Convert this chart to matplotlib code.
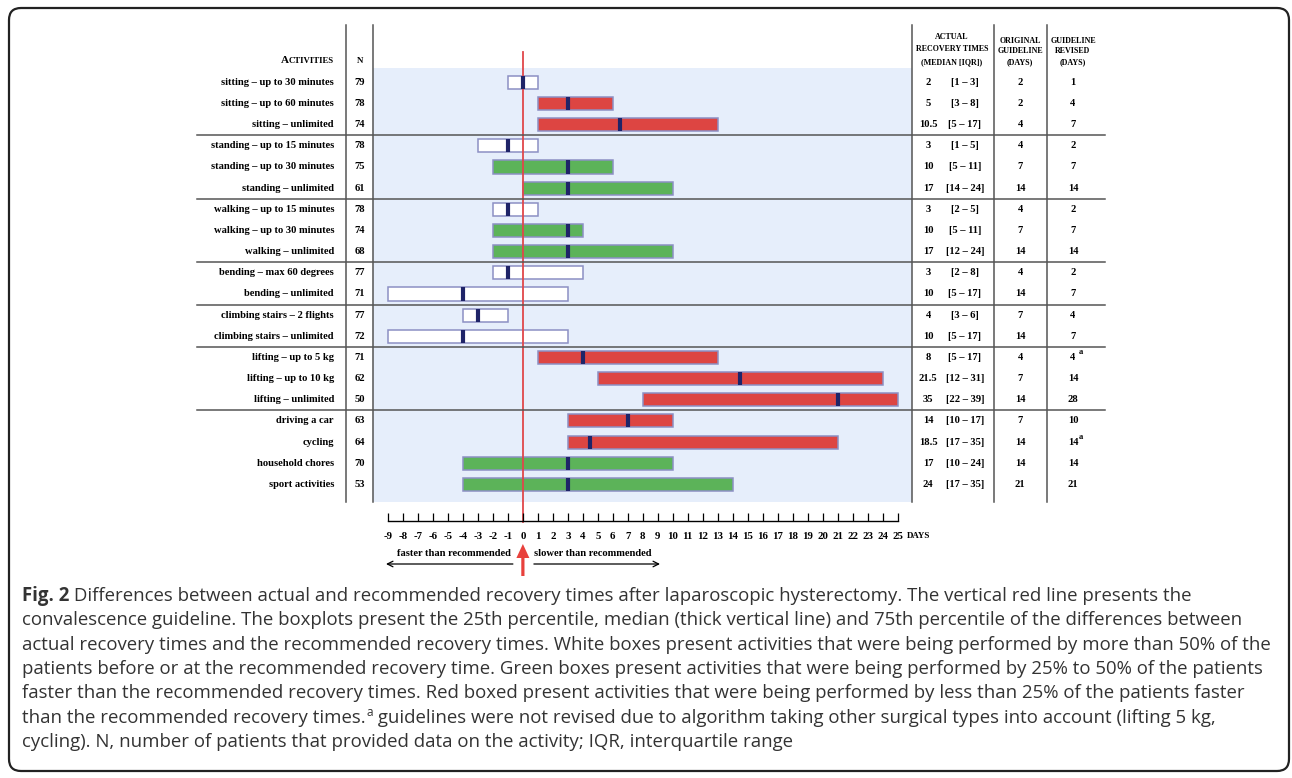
import matplotlib
matplotlib.use("Agg")
import matplotlib.pyplot as plt
import matplotlib.transforms as mtransforms
from matplotlib.patches import FancyBboxPatch, FancyArrow

# activities and table values
activities = [
    "sitting – up to 30 minutes", "sitting – up to 60 minutes", "sitting – unlimited",
    "standing – up to 15 minutes", "standing – up to 30 minutes", "standing – unlimited",
    "walking – up to 15 minutes", "walking – up to 30 minutes", "walking – unlimited",
    "bending – max 60 degrees", "bending – unlimited",
    "climbing stairs – 2 flights", "climbing stairs – unlimited",
    "lifting – up to 5 kg", "lifting – up to 10 kg", "lifting – unlimited",
    "driving a car", "cycling", "household chores", "sport activities",
]
n_patients = [79, 78, 74, 78, 75, 61, 78, 74, 68, 77, 71, 77, 72, 71, 62, 50, 63, 64, 70, 53]
actual_median = ["2", "5", "10.5", "3", "10", "17", "3", "10", "17", "3", "10", "4", "10",
                 "8", "21.5", "35", "14", "18.5", "17", "24"]
actual_iqr = ["[1 – 3]", "[3 – 8]", "[5 – 17]", "[1 – 5]", "[5 – 11]", "[14 – 24]",
              "[2 – 5]", "[5 – 11]", "[12 – 24]", "[2 – 8]", "[5 – 17]", "[3 – 6]",
              "[5 – 17]", "[5 – 17]", "[12 – 31]", "[22 – 39]", "[10 – 17]", "[17 – 35]",
              "[10 – 24]", "[17 – 35]"]
original_days = [2, 2, 4, 4, 7, 14, 4, 7, 14, 4, 14, 7, 14, 4, 7, 14, 7, 14, 14, 21]
revised_days = [1, 4, 7, 2, 7, 14, 2, 7, 14, 2, 7, 4, 7, 4, 14, 28, 10, 14, 14, 21]
not_revised = [13, 17]  # rows with footnote a

# differences actual - recommended (days)
diff_q1 = [-1, 1, 1, -3, -2, 0, -2, -2, -2, -2, -9, -4, -9, 1, 5, 8, 3, 3, -4, -4]
diff_med = [0, 3, 6.5, -1, 3, 3, -1, 3, 3, -1, -4, -3, -4, 4, 14.5, 21, 7, 4.5, 3, 3]
diff_q3 = [1, 6, 13, 1, 6, 10, 1, 4, 10, 4, 3, -1, 3, 13, 24, 25, 10, 21, 10, 14]
box_class = ["white", "red", "red", "white", "green", "green", "white", "green", "green",
             "white", "white", "white", "white", "red", "red", "red", "red", "red",
             "green", "green"]
group_breaks = [2.5, 5.5, 8.5, 10.5, 12.5, 15.5]
day_ticks = list(range(-9, 26))

caption = [
    "convalescence guideline. The boxplots present the 25th percentile, median (thick vertical line) and 75th percentile of the differences between",
    "actual recovery times and the recommended recovery times. White boxes present activities that were being performed by more than 50% of the",
    "patients before or at the recommended recovery time. Green boxes present activities that were being performed by 25% to 50% of the patients",
    "faster than the recommended recovery times. Red boxed present activities that were being performed by less than 25% of the patients faster",
]

W, H = 1292, 778
box_colors = {"white": "#ffffff", "green": "#5cb359", "red": "#dd4542"}
edge = "#8c90c4"
navy = "#1f2468"
redline = "#e0474a"
linec = "#555555"

plt.rcParams["font.family"] = ["Liberation Serif", "DejaVu Serif"]
plt.rcParams["font.weight"] = "bold"
plt.rcParams["axes.unicode_minus"] = False

fig = plt.figure(figsize=(W / 100, H / 100), dpi=100)
renderer = fig.canvas.get_renderer()

# overlay in pixel coordinates
ov = fig.add_axes([0, 0, 1, 1], zorder=3)
ov.set_xlim(0, W)
ov.set_ylim(H, 0)
ov.axis("off")
ov.patch.set_alpha(0)

# panel axes with the boxes
pl, pr, pt, pb = 373, 912, 68, 502
ax = fig.add_axes([pl / W, (H - pb) / H, (pr - pl) / W, (pb - pt) / H], zorder=1)
ax.set_xlim(-10.0, 25.96)
ax.set_ylim(19.83, -0.675)
ax.set_facecolor("#e6eefb")
for s in ax.spines.values():
    s.set_visible(False)
ax.set_xticks([])
ax.set_yticks([])

rows = list(range(len(activities)))
ax.barh(rows, [b - a for a, b in zip(diff_q1, diff_q3)], left=diff_q1, height=0.62,
        color=[box_colors[c] for c in box_class], edgecolor=edge, linewidth=1.1, zorder=2)
ax.axvline(0, ymin=-0.045, ymax=1.037, clip_on=False, color=redline, lw=1.3, zorder=3)
ax.vlines(diff_med, [r - 0.31 for r in rows], [r + 0.31 for r in rows],
          color=navy, lw=3, zorder=4)
for yb in group_breaks:
    ax.axhline(yb, xmin=(197 - pl) / (pr - pl), xmax=(1105 - pl) / (pr - pl),
               clip_on=False, color=linec, lw=1.1, zorder=5)

# column lines
for x in (345.5, 373, 912, 993.5, 1046.5):
    ov.plot([x, x], [25, 502], color=linec, lw=1.1)

# text columns: x in pixels, y in rows
tr = mtransforms.blended_transform_factory(ov.transData, ax.transData)
fs = 7.6
for i in rows:
    ax.text(334, i, activities[i], transform=tr, ha="right", va="center", fontsize=fs)
    ax.text(360, i, str(n_patients[i]), transform=tr, ha="center", va="center", fontsize=fs)
    ax.text(928, i, actual_median[i], transform=tr, ha="center", va="center", fontsize=fs)
    ax.text(965, i, actual_iqr[i], transform=tr, ha="center", va="center", fontsize=fs)
    ax.text(1020, i, str(original_days[i]), transform=tr, ha="center", va="center", fontsize=fs)
    ax.text(1073, i, str(revised_days[i]), transform=tr, ha="center", va="center", fontsize=fs)
    if i in not_revised:
        ax.text(1079, i - 0.25, "a", transform=tr, ha="left", va="center", fontsize=6.2)

# headers
t = ov.text(334, 61, "CTIVITIES", ha="right", va="center", fontsize=6.3)
bb = t.get_window_extent(renderer)
ov.text(ov.transData.inverted().transform((bb.x0, 0))[0] - 0.3, 60.6, "A",
        ha="right", va="center", fontsize=8.0)
ov.text(360, 61, "N", ha="center", va="center", fontsize=6.5)
hs = 5.8
for txt, y in (("ACTUAL", 37), ("RECOVERY TIMES", 49.3), ("(MEDIAN [IQR])", 62)):
    ov.text(952, y, txt, ha="center", va="center", fontsize=hs)
for txt, y in (("ORIGINAL", 40.7), ("GUIDELINE", 50.5), ("(DAYS)", 62)):
    ov.text(1020, y, txt, ha="center", va="center", fontsize=hs)
for txt, y in (("GUIDELINE", 40.7), ("REVISED", 50.5), ("(DAYS)", 62)):
    ov.text(1073, y, txt, ha="center", va="center", fontsize=hs)

# days axis
ay = 520.7
dx = fig.add_axes([pl / W, (H - ay) / H, (pr - pl) / W, 0.002], zorder=2)
dx.set_xlim(ax.get_xlim())
dx.patch.set_alpha(0)
for k in ("top", "left", "right"):
    dx.spines[k].set_visible(False)
dx.spines["bottom"].set_bounds(-9, 25)
dx.spines["bottom"].set_linewidth(1.0)
dx.set_yticks([])
dx.set_xticks(day_ticks)
dx.tick_params(axis="x", direction="in", length=6, width=0.9, pad=8, labelsize=7.8)
ov.text(907, 536, "DAYS", ha="left", va="center", fontsize=6.4)

x0 = ov.transData.inverted().transform(ax.transData.transform((0, 0)))[0]
ov.text(454, 553.5, "faster than recommended", ha="center", va="center", fontsize=fs)
ov.text(593, 553.5, "slower than recommended", ha="center", va="center", fontsize=fs)
ov.annotate("", xy=(386, 564), xytext=(x0 - 10, 564),
            arrowprops=dict(arrowstyle="->", lw=0.9, color="black", shrinkA=0, shrinkB=0))
ov.annotate("", xy=(660, 564), xytext=(x0 + 11, 564),
            arrowprops=dict(arrowstyle="->", lw=0.9, color="black", shrinkA=0, shrinkB=0))
ov.add_patch(FancyArrow(x0, 576, 0, -32, width=3.2, head_width=13, head_length=14,
                        length_includes_head=True, color="#e8413c", lw=0))

# border
ov.add_patch(FancyBboxPatch((9, 8), 1280, 763, boxstyle="round,pad=0,rounding_size=12",
                            fill=False, lw=1.6, ec="#222222"))

# caption
cf = dict(family=["Open Sans", "DejaVu Sans"], fontsize=13.4, color="#333333",
          va="baseline", weight="normal")
lx, by, dy = 22, 601, 24.35
t = ov.text(lx, by, "Fig. 2", **{**cf, "weight": "bold"})
bb = t.get_window_extent(renderer)
xe = ov.transData.inverted().transform((bb.x1, 0))[0]
ov.text(xe, by, " Differences between actual and recommended recovery times after laparoscopic hysterectomy. The vertical red line presents the", **cf)
for k, line in enumerate(caption):
    ov.text(lx, by + dy * (k + 1), line, **cf)
yl = by + dy * 5
t = ov.text(lx, yl, "than the recommended recovery times.", **cf)
bb = t.get_window_extent(renderer)
xe = ov.transData.inverted().transform((bb.x1, 0))[0]
t = ov.text(xe + 0.5, yl - 7, "a", **{**cf, "fontsize": 8.5})
bb = t.get_window_extent(renderer)
xe = ov.transData.inverted().transform((bb.x1, 0))[0]
ov.text(xe, yl, " guidelines were not revised due to algorithm taking other surgical types into account (lifting 5 kg,", **cf)
ov.text(lx, by + dy * 6, "cycling). N, number of patients that provided data on the activity; IQR, interquartile range", **cf)

fig.savefig("out.png", dpi=100)
